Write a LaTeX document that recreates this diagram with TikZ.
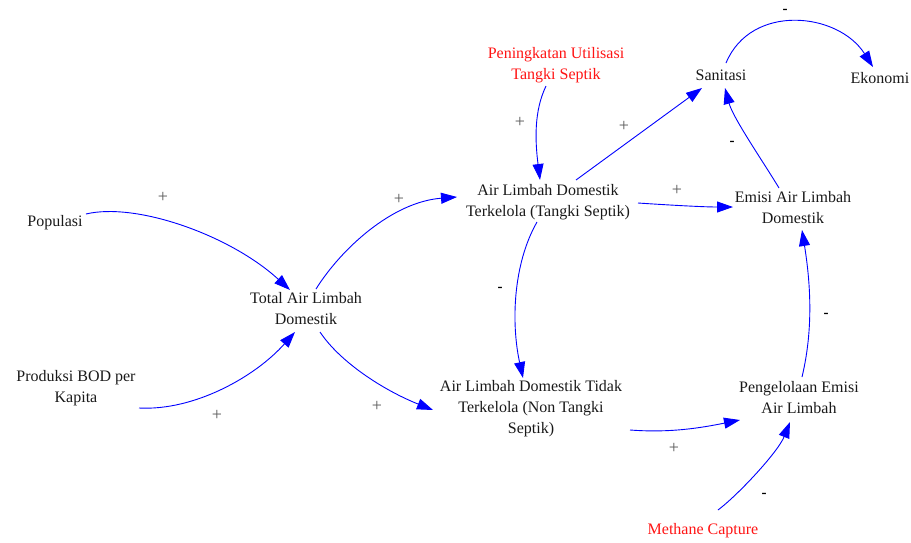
\documentclass[tikz,border=0pt]{standalone}
\usepackage{fontspec}
\setmainfont{Liberation Serif}
\usetikzlibrary{arrows.meta}
\definecolor{linkblue}{RGB}{0,0,255}
\definecolor{policyred}{RGB}{255,20,20}
\definecolor{txt}{RGB}{25,25,25}
\definecolor{plusgray}{RGB}{90,90,90}
\begin{document}
\begin{tikzpicture}[x=1pt,y=-1pt,
  var/.style={align=center,inner sep=0pt,text=txt,
    font=\fontsize{16}{21}\selectfont},
  policy/.style={var,text=policyred},
  link/.style={draw=linkblue,line width=0.9pt,
    -{Triangle[length=16pt,width=11pt]}},
  plussign/.style={text=plusgray,inner sep=0pt,font=\fontsize{18}{18}\selectfont},
  minussign/.style={text=black,inner sep=0pt,font=\bfseries\fontsize{15}{15}\selectfont}]
\useasboundingbox (0,0) rectangle (911,542);

% variables
\node[var] (pop) at (55,223) {Populasi};
\node[var] (bod) at (76,388) {Produksi BOD per\\Kapita};
\node[var] (tot) at (306,309) {Total Air Limbah\\Domestik};
\node[policy] (util) at (556,65) {Peningkatan Utilisasi\\Tangki Septik};
\node[var] (kel) at (548,202) {Air Limbah Domestik\\Terkelola (Tangki Septik)};
\node[var] (tdk) at (531,409) {Air Limbah Domestik Tidak\\Terkelola (Non Tangki\\Septik)};
\node[var] (san) at (721,75) {Sanitasi};
\node[var] (eko) at (880,78) {Ekonomi};
\node[var] (emi) at (793,208) {Emisi Air Limbah\\Domestik};
\node[var] (pen) at (799,398) {Pengelolaan Emisi\\Air Limbah};
\node[policy] (met) at (703,531) {Methane Capture};

% causal links
\draw[link] ([shift={(31,-9)}]pop.center) .. controls +(50,-12) and +(-60,-55) .. ([shift={(-16,-19)}]tot.center);
\draw[link] ([shift={(63,20)}]bod.center) .. controls +(55,3) and +(-40,45) .. ([shift={(-11,23)}]tot.center);
\draw[link] ([shift={(10,-20)}]tot.center) .. controls +(25,-40) and +(-65,5) .. ([shift={(-91,-5)}]kel.center);
\draw[link] ([shift={(14,23)}]tot.center) .. controls +(20,30) and +(-50,-20) .. ([shift={(-98,1)}]tdk.center);
\draw[link] ([shift={(-10,21)}]util.center) .. controls +(-12,25) and +(-5,-40) .. ([shift={(-8,-22)}]kel.center);
\draw[link] ([shift={(28,-22)}]kel.center) -- ([shift={(-19,13)}]san.center);
\draw[link] ([shift={(90,1)}]kel.center) .. controls +(30,2) and +(-30,0) .. ([shift={(-60,-1)}]emi.center);
\draw[link] ([shift={(-11,20)}]kel.center) .. controls +(-24,42) and +(-12,-55) .. ([shift={(-8,-31)}]tdk.center);
\draw[link] ([shift={(-14,-20)}]emi.center) .. controls +(-15,-25) and +(8,30) .. ([shift={(4,13)}]san.center);
\draw[link] ([shift={(5,-12)}]san.center) .. controls +(25,-60) and +(-35,-55) .. ([shift={(-7,-11)}]eko.center);
\draw[link] ([shift={(99,21)}]tdk.center) .. controls +(40,3) and +(-40,8) .. ([shift={(-59,22)}]pen.center);
\draw[link] ([shift={(3,-21)}]pen.center) .. controls +(12,-50) and +(8,50) .. ([shift={(9,22)}]emi.center);
\draw[link] ([shift={(15,-21)}]met.center) .. controls +(20,-15) and +(-12,30) .. ([shift={(-9,24)}]pen.center);

% polarities
\node[plussign] (p1) at (163,197) {+};
\node[plussign] (p2) at (217,415) {+};
\node[plussign] (p3) at (399,199) {+};
\node[plussign] (p4) at (377,406) {+};
\node[plussign] (p5) at (520,122) {+};
\node[plussign] (p6) at (624,126) {+};
\node[plussign] (p7) at (677,190) {+};
\node[minussign] (n1) at (500,289) {-};
\node[minussign] (n2) at (732,143) {-};
\node[minussign] (n3) at (785,11) {-};
\node[plussign] (p8) at (674,448) {+};
\node[minussign] (n4) at (826,315) {-};
\node[minussign] (n5) at (764,495) {-};
\end{tikzpicture}
\end{document}
